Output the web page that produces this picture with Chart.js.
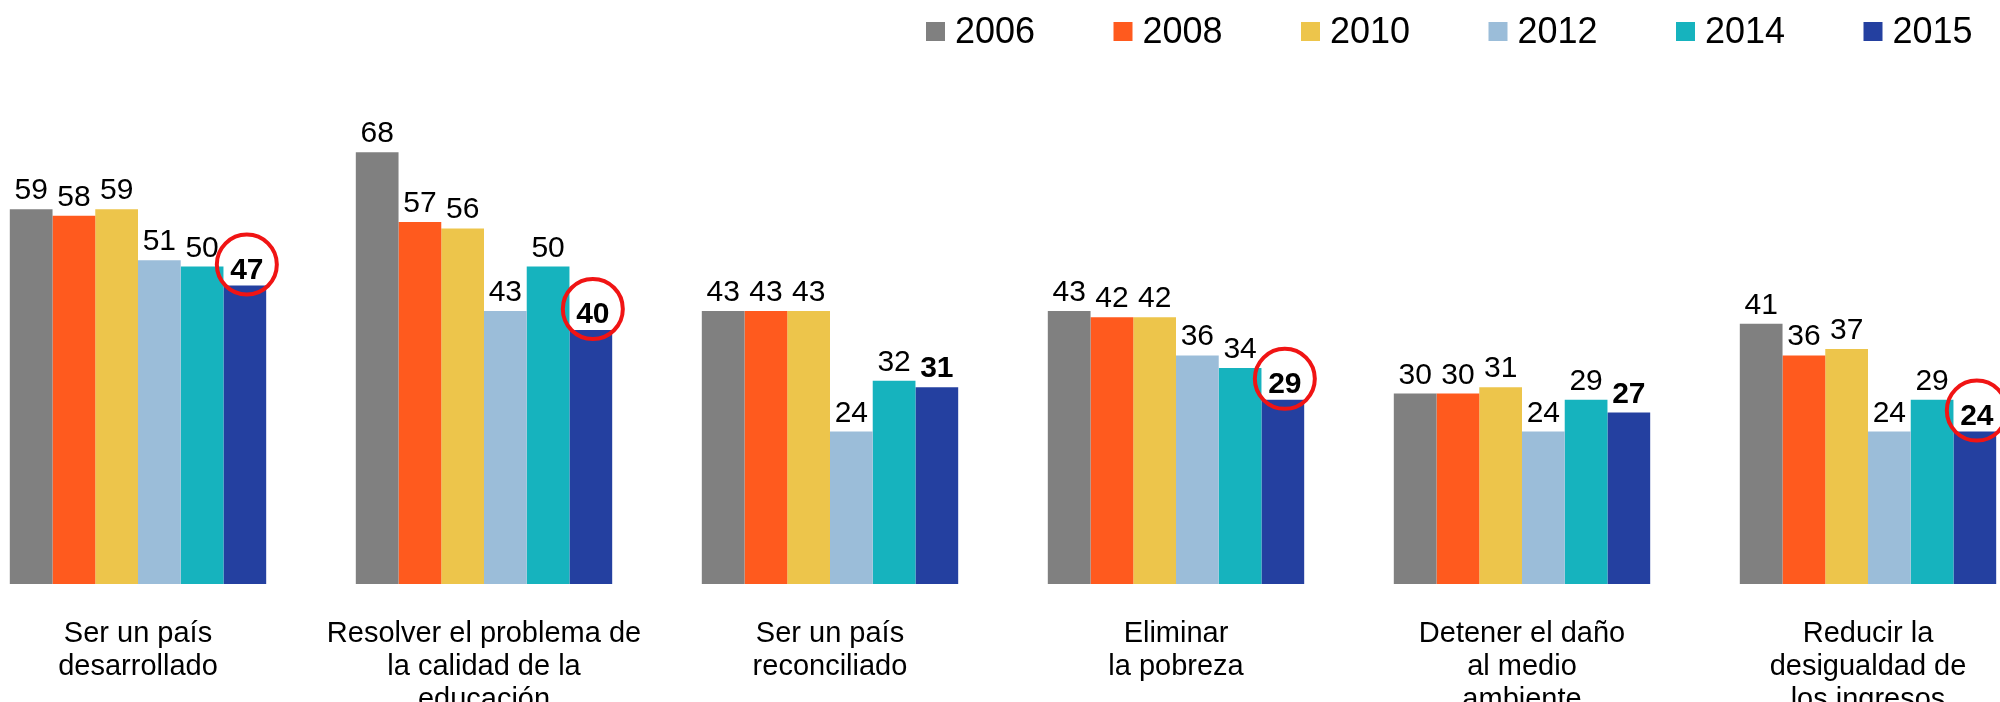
<!DOCTYPE html>
<html>
<head>
<meta charset="utf-8">
<script src="https://cdn.jsdelivr.net/npm/chart.js@4"></script>
<style>
  html, body { margin: 0; padding: 0; background: #fff; overflow: hidden; }
  #wrap { position: relative; width: 2000px; height: 702px; overflow: hidden; }
  #chart { position: absolute; left: -35px; top: 0; }
</style>
</head>
<body>
<div id="wrap"><canvas id="chart" width="2076" height="702"></canvas></div>
<script>
// categories (multi-line labels)
const categories = [
  ['Ser un país', 'desarrollado'],
  ['Resolver el problema de', 'la calidad de la', 'educación'],
  ['Ser un país', 'reconciliado'],
  ['Eliminar', 'la pobreza'],
  ['Detener el daño', 'al medio', 'ambiente'],
  ['Reducir la', 'desigualdad de', 'los ingresos']
];

const years = ['2006', '2008', '2010', '2012', '2014', '2015'];

const v2006 = [59, 68, 43, 43, 30, 41];
const v2008 = [58, 57, 43, 42, 30, 36];
const v2010 = [59, 56, 43, 42, 31, 37];
const v2012 = [51, 43, 24, 36, 24, 24];
const v2014 = [50, 50, 32, 34, 29, 29];
const v2015 = [47, 40, 31, 29, 27, 24];

// which 2015 values get the red circle
const circled = [true, true, false, true, false, true];

const colors = ['#808080', '#ff5a1e', '#edc54b', '#9bbdd9', '#16b3be', '#2440a0'];
const FONT = '"Liberation Sans", Arial, sans-serif';

const series = [v2006, v2008, v2010, v2012, v2014, v2015];

const valueLabels = {
  id: 'valueLabels',
  afterDatasetsDraw(chart) {
    const ctx = chart.ctx;
    const last = chart.data.datasets.length - 1;
    ctx.save();
    ctx.textAlign = 'center';
    ctx.textBaseline = 'alphabetic';
    ctx.fillStyle = '#000';
    chart.data.datasets.forEach((ds, di) => {
      const meta = chart.getDatasetMeta(di);
      meta.data.forEach((bar, i) => {
        const isLast = di === last;
        const ring = isLast && circled[i];
        ctx.font = (isLast ? 'bold ' : '') + '30px ' + FONT;
        const base = bar.y - (ring ? 7 : 10);
        ctx.fillText(ds.data[i], bar.x + (ring ? 2 : 0), base);
        if (ring) {
          ctx.beginPath();
          ctx.arc(bar.x + 2, base - 14, 30, 0, Math.PI * 2);
          ctx.lineWidth = 4;
          ctx.strokeStyle = '#f01414';
          ctx.stroke();
        }
      });
    });
    ctx.restore();
  }
};

const topLegend = {
  id: 'topLegend',
  afterDraw(chart) {
    const ctx = chart.ctx;
    ctx.save();
    ctx.font = '36px ' + FONT;
    ctx.textBaseline = 'middle';
    ctx.textAlign = 'left';
    chart.data.datasets.forEach((ds, i) => {
      const x = 961 + i * 187.5;
      ctx.fillStyle = ds.backgroundColor;
      ctx.fillRect(x, 22, 19, 19);
      ctx.fillStyle = '#000';
      ctx.fillText(ds.label, x + 29, 33);
    });
    ctx.restore();
  }
};

new Chart(document.getElementById('chart').getContext('2d'), {
  type: 'bar',
  data: {
    labels: categories,
    datasets: years.map((y, i) => ({
      label: y,
      data: series[i],
      backgroundColor: colors[i],
      borderWidth: 0,
      categoryPercentage: 0.741,
      barPercentage: 1
    }))
  },
  options: {
    responsive: false,
    animation: false,
    devicePixelRatio: 1,
    layout: { padding: { top: 76, left: 0, right: 0, bottom: 0 } },
    plugins: {
      legend: { display: false },
      tooltip: { enabled: false }
    },
    scales: {
      x: {
        grid: { display: false, drawTicks: false },
        border: { display: false },
        ticks: {
          autoSkip: false,
          maxRotation: 0,
          color: '#000',
          padding: 33,
          font: { family: FONT, size: 29, lineHeight: 1.14 }
        },
        afterFit(scale) { scale.height = 118; }
      },
      y: {
        display: false,
        min: 0,
        max: 80
      }
    }
  },
  plugins: [valueLabels, topLegend]
});
</script>
</body>
</html>
